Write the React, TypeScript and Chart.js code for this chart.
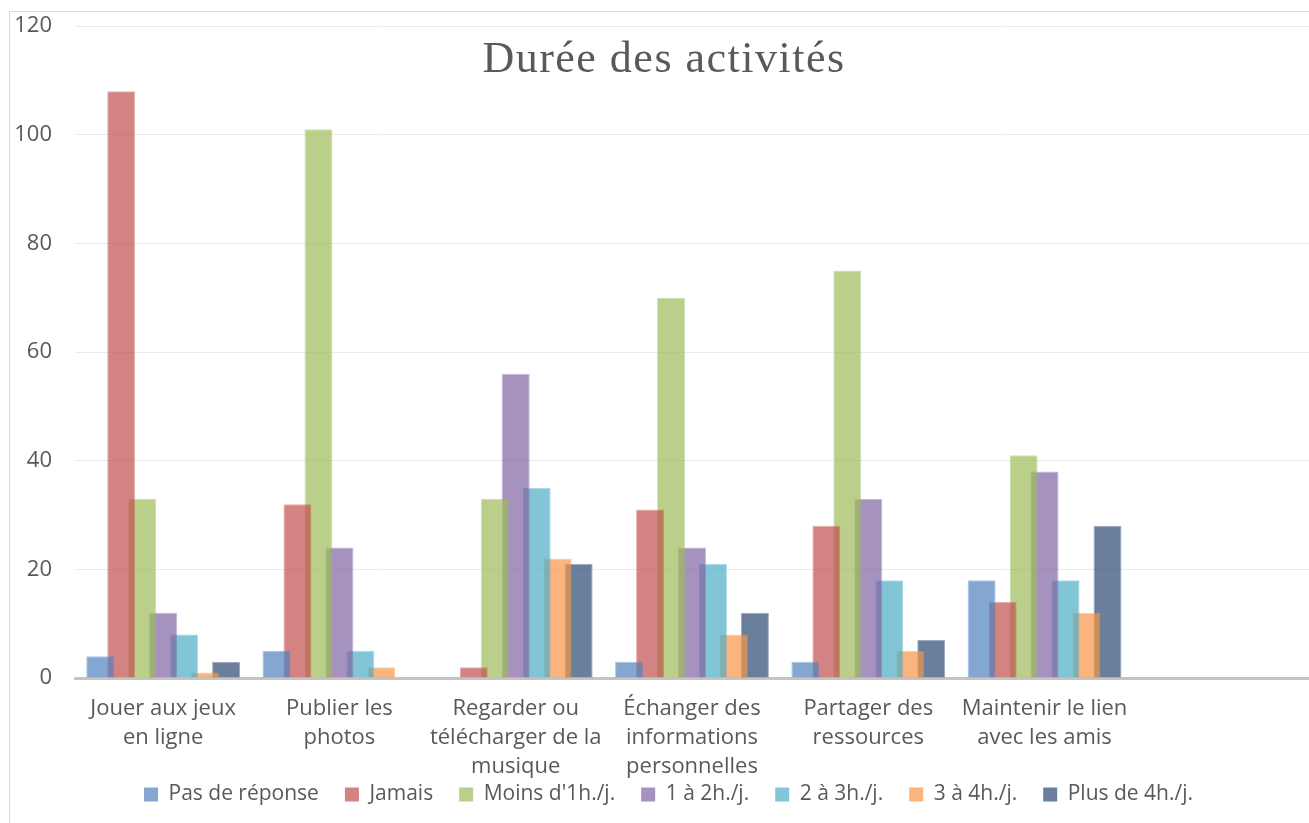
import React, { useEffect, useRef } from "react";
import { Chart, registerables } from "chart.js";

Chart.register(...registerables);

const categories: string[][] = [
  ["Jouer aux jeux", "en ligne"],
  ["Publier les", "photos"],
  ["Regarder ou", "télécharger de la", "musique"],
  ["Échanger des", "informations", "personnelles"],
  ["Partager des", "ressources"],
  ["Maintenir le lien", "avec les amis"],
  [""],
];

const pasDeReponse = [4, 5, 0, 3, 3, 18];
const jamais = [108, 32, 2, 31, 28, 14];
const moinsDe1h = [33, 101, 33, 70, 75, 41];
const de1a2h = [12, 24, 56, 24, 33, 38];
const de2a3h = [8, 5, 35, 21, 18, 18];
const de3a4h = [1, 2, 22, 8, 5, 12];
const plusDe4h = [3, 0, 21, 12, 7, 28];

const seriesLabels = [
  "Pas de réponse",
  "Jamais",
  "Moins d'1h./j.",
  "1 à 2h./j.",
  "2 à 3h./j.",
  "3 à 4h./j.",
  "Plus de 4h./j.",
];
const seriesValues = [pasDeReponse, jamais, moinsDe1h, de1a2h, de2a3h, de3a4h, plusDe4h];
const seriesRGB = [
  "79,129,189",
  "192,80,77",
  "155,187,89",
  "128,100,162",
  "75,172,198",
  "247,150,70",
  "42,72,114",
];

const yTicks = [0, 20, 40, 60, 80, 100, 120];
const titleText = "Durée des activités";

const TEXT = "#595959";
const FONT = "'Open Sans', sans-serif";

const titlePlugin = {
  id: "overlayTitle",
  afterDraw(chart: any) {
    const ctx = chart.ctx;
    ctx.save();
    ctx.font = "44px 'Liberation Serif', serif";
    ctx.fillStyle = TEXT;
    ctx.textAlign = "center";
    ctx.textBaseline = "alphabetic";
    try { (ctx as any).letterSpacing = "1.5px"; } catch (e) {}
    ctx.fillText(titleText, 664, 72);
    ctx.restore();
  },
};

const legendFitPlugin = {
  id: "legendFit",
  beforeInit(chart: any) {
    const legend = chart.legend;
    if (!legend) return;
    const orig = legend.fit;
    legend.fit = function () {
      orig.call(this);
      this.height = 42;
    };
  },
  afterLayout(chart: any) {
    const legend = chart.legend;
    if (!legend) return;
    legend.top = 758;
    legend.bottom = 823;
    legend.height = 65;
    legend.left = legend.left + 13;
    legend.width = legend.right - legend.left;
  },
};

export default function App() {
  const ref = useRef<HTMLCanvasElement>(null);
  useEffect(() => {
    if (!ref.current) return;
    const chart = new Chart(ref.current, {
      type: "bar",
      data: {
        labels: categories,
        datasets: seriesLabels.map((label, i) => ({
          label,
          data: seriesValues[i],
          backgroundColor: `rgba(${seriesRGB[i]},0.7)`,
          borderColor: `rgba(${seriesRGB[i]},0.45)`,
          borderWidth: 1,
          categoryPercentage: 0.833,
          barPercentage: 1.333,
        })),
      },
      options: {
        animation: false,
        responsive: false,
        devicePixelRatio: 1,
        layout: { padding: { left: 15, right: 0, top: 26, bottom: 0 } },
        plugins: {
          title: { display: false },
          tooltip: { enabled: false },
          legend: {
            position: "bottom",
            labels: {
              boxWidth: 14,
              boxHeight: 14,
              padding: 26,
              color: TEXT,
              font: { family: FONT, size: 21 },
              generateLabels: (chart: any) =>
                chart.data.datasets.map((ds: any, i: number) => ({
                  text: ds.label,
                  fillStyle: `rgba(${seriesRGB[i]},0.7)`,
                  strokeStyle: `rgba(${seriesRGB[i]},0.7)`,
                  lineWidth: 0,
                  hidden: false,
                  datasetIndex: i,
                  fontColor: TEXT,
                })),
            },
          },
        },
        scales: {
          x: {
            grid: { display: false, drawTicks: false },
            border: { display: true, color: "#C4C4C4", width: 3 },
            ticks: {
              color: TEXT,
              font: { family: FONT, size: 22, lineHeight: 1.32 },
              padding: 16,
              maxRotation: 0,
              autoSkip: false,
            },
            afterFit: (axis: any) => {
              axis.height = 103;
            },
          },
          y: {
            min: 0,
            max: 120,
            afterBuildTicks: (axis: any) => {
              axis.ticks = yTicks.map((v) => ({ value: v }));
            },
            afterFit: (axis: any) => {
              axis.width = 60;
              axis.paddingTop = 12;
              axis.paddingBottom = 12;
            },
            grid: { color: "#EBEBEB", lineWidth: 1, drawTicks: false },
            border: { display: false },
            ticks: {
              color: TEXT,
              font: { family: FONT, size: 22 },
              padding: 23,
            },
          },
        },
      },
      plugins: [titlePlugin, legendFitPlugin],
    });
    return () => chart.destroy();
  }, []);

  return (
    <div style={{ position: "fixed", left: 0, top: 0, width: 1309, height: 823, background: "#fff", overflow: "hidden" }}>
      <div
        style={{
          position: "absolute",
          left: 9,
          top: 11,
          width: 1320,
          height: 830,
          border: "1px solid #D9D9D9",
        }}
      />
      <canvas ref={ref} width={1309} height={823} style={{ position: "absolute", left: 0, top: 0 }} />
    </div>
  );
}
